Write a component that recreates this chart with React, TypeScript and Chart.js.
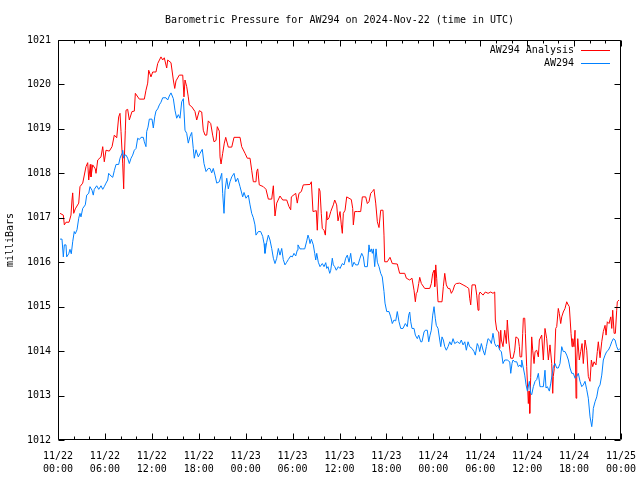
import React, { useEffect, useRef } from "react";
import { Chart, registerables } from "chart.js";

Chart.register(...registerables);

const chartTitle = "Barometric Pressure for AW294 on 2024-Nov-22 (time in UTC)";
const yAxisTitle = "milliBars";
const seriesNames = ["AW294 Analysis", "AW294"];
const seriesColors = ["#ff0000", "#0080ff"];
const xTickLabels = [
  ["11/22", "00:00"], ["11/22", "06:00"], ["11/22", "12:00"], ["11/22", "18:00"],
  ["11/23", "00:00"], ["11/23", "06:00"], ["11/23", "12:00"], ["11/23", "18:00"],
  ["11/24", "00:00"], ["11/24", "06:00"], ["11/24", "12:00"], ["11/24", "18:00"],
  ["11/25", "00:00"],
];
const xMinHours = 0;
const xMaxHours = 72;
const xMajorStep = 6;
const xMinorStep = 2;
const yMin = 1012;
const yMax = 1021;

// hours since 2024-11-22 00:00 UTC
const analysisHours = [
  0.26, 0.68, 0.81, 1.02, 1.41, 1.66, 1.79, 1.88, 2.01, 2.21, 2.65, 2.81, 3.16, 3.58, 3.80, 3.93, 4.13, 4.22, 4.44, 4.77,
  4.86, 5.08, 5.50, 5.72, 5.92, 6.14, 6.56, 6.91, 7.20, 7.51, 7.76, 7.93, 8.06, 8.27, 8.40, 8.48, 8.61, 8.70, 8.91, 9.12,
  9.46, 9.76, 9.89, 10.40, 11.04, 11.25, 11.47, 11.60, 11.89, 12.11, 12.53, 12.75, 13.17, 13.39, 13.59, 13.90, 14.03, 14.45,
  14.75, 14.93, 15.09, 15.51, 15.95, 16.11, 16.24, 16.46, 16.66, 16.79, 17.10, 17.52, 17.74, 18.07, 18.38, 18.58, 18.80, 19.02, 19.22, 19.53,
  19.78, 19.95, 20.21, 20.37, 20.63, 20.72, 20.85, 21.06, 21.27, 21.45, 21.78, 22.22, 22.51, 23.28, 23.49, 23.92, 24.21, 24.56, 24.77, 24.98,
  25.32, 25.41, 25.54, 25.74, 26.26, 26.60, 26.90, 27.33, 27.54, 27.75, 27.97, 28.39, 28.74, 29.25,
  29.54, 29.76, 29.84, 30.40, 30.60, 30.82, 31.12, 31.37, 32.23, 32.40, 32.61, 33.03, 33.16, 33.38, 33.51, 33.67, 33.80, 34.02, 34.19, 34.37,
  34.44, 34.66, 34.88, 35.21, 35.39, 35.64, 35.81, 36.07, 36.23, 36.36, 36.49, 36.71, 36.92, 37.22, 37.51, 37.69, 37.77, 37.95, 38.28, 38.71,
  38.92, 39.35, 39.56, 39.77, 39.99, 40.20, 40.41, 40.63, 40.84, 41.05, 41.27, 41.56, 41.69, 41.78, 42.11, 42.46, 42.75, 43.39,
  43.69, 44.34, 44.55, 44.98, 45.27, 45.53, 45.70, 45.82, 45.95, 46.13, 46.26, 46.47, 46.90, 47.54, 47.74, 47.92, 48.09, 48.18, 48.31, 48.43,
  48.60, 49.11, 49.28, 49.46, 49.66, 49.88, 50.10, 50.30, 50.52, 50.73, 50.94, 51.38, 51.80, 52.22, 52.53, 52.65, 52.78, 52.95, 53.37, 53.55,
  53.72, 53.84, 53.97, 54.36, 54.65, 55.00, 55.34, 55.63, 55.85, 55.93, 56.11, 56.36, 56.49, 56.62, 56.70, 56.91, 57.13, 57.34, 57.46, 57.64,
  57.90, 58.19, 58.41,
  58.56, 58.87, 59.00, 59.09, 59.30, 59.43, 59.51, 59.69, 59.77, 59.94, 60.15, 60.24, 60.33, 60.45, 60.58, 60.71, 60.88, 61.01, 61.22, 61.43,
  61.56, 61.86, 62.07, 62.28, 62.50, 62.71, 62.92, 63.14, 63.27, 63.34, 63.47, 63.65, 63.78, 63.98, 64.11, 64.29, 64.42, 64.62, 64.84, 65.06,
  65.19, 65.39, 65.61, 65.74, 65.83, 65.99, 66.12, 66.25, 66.34, 66.47, 66.67, 66.85, 67.02, 67.18, 67.40, 67.62, 67.82, 68.04, 68.21, 68.38,
  68.55, 68.80, 68.97, 69.10, 69.32, 69.54, 69.74, 69.96, 70.09, 70.25, 70.47, 70.69, 70.82, 70.94, 71.12, 71.28, 71.45, 71.53, 71.75,
];
const analysisValues = [
  1017.10, 1017.06, 1016.84, 1016.90, 1016.90, 1017.06, 1017.40, 1017.56, 1017.10, 1017.20, 1017.33, 1017.70, 1017.78, 1018.15, 1018.24, 1017.85, 1018.20, 1017.92, 1018.19, 1018.10,
  1018.00, 1018.30, 1018.37, 1018.60, 1018.26, 1018.52, 1018.50, 1018.60, 1018.86, 1018.80, 1019.27, 1019.35, 1018.94, 1018.23, 1017.65, 1018.30, 1018.97, 1019.42, 1019.44, 1019.20,
  1019.39, 1019.40, 1019.80, 1019.67, 1019.67, 1019.87, 1020.03, 1020.32, 1020.17, 1020.28, 1020.28, 1020.47, 1020.62, 1020.55, 1020.60, 1020.37, 1020.55, 1020.49,
  1020.10, 1019.91, 1020.08, 1020.21, 1020.21, 1019.72, 1020.10, 1019.95, 1019.72, 1019.54, 1019.50, 1019.39, 1019.20, 1019.41, 1019.38, 1018.97, 1018.86, 1018.86, 1019.18, 1019.12,
  1018.86, 1018.71, 1018.74, 1019.05, 1018.95, 1018.37, 1018.21, 1018.45, 1018.68, 1018.81, 1018.59, 1018.59, 1018.81, 1018.81, 1018.60, 1018.45, 1018.34, 1018.34, 1018.07, 1017.81,
  1017.81, 1018.04, 1018.10, 1017.74, 1017.70, 1017.64, 1017.42, 1017.42, 1017.72, 1017.04, 1017.33, 1017.49, 1017.40, 1017.40,
  1017.25, 1017.18, 1017.47, 1017.55, 1017.33, 1017.55, 1017.59, 1017.74, 1017.75, 1017.81, 1017.14, 1017.16, 1016.72, 1017.66, 1017.60, 1017.10, 1016.76, 1016.72, 1016.61, 1017.14,
  1016.95, 1017.00, 1017.14, 1017.29, 1017.40, 1017.29, 1016.93, 1017.14, 1016.84, 1016.65, 1017.10, 1017.17, 1017.47, 1017.44, 1017.41, 1017.21, 1016.84, 1017.14, 1017.14, 1017.14,
  1017.47, 1017.47, 1017.32, 1017.36, 1017.55, 1017.59, 1017.64, 1017.33, 1016.91, 1016.78, 1017.17, 1017.17, 1016.61, 1016.01, 1016.01, 1016.11, 1015.97, 1015.96,
  1015.75, 1015.75, 1015.64, 1015.60, 1015.64, 1015.37, 1015.11, 1015.30, 1015.33, 1015.52, 1015.66, 1015.52, 1015.41, 1015.41, 1015.52, 1015.75, 1015.82, 1015.45, 1015.94, 1015.64,
  1015.11, 1015.11, 1015.45, 1015.75, 1015.49, 1015.41, 1015.41, 1015.30, 1015.37, 1015.49, 1015.52, 1015.53, 1015.49, 1015.45, 1015.41, 1015.19, 1015.04, 1015.49, 1015.49, 1015.26,
  1014.92, 1015.26, 1015.33, 1015.26, 1015.33, 1015.30, 1015.33, 1015.30, 1015.33, 1014.70, 1014.47, 1014.43, 1014.06, 1014.47, 1014.25, 1014.10, 1014.47, 1014.17, 1014.70, 1014.25,
  1013.84, 1013.84, 1014.02,
  1014.32, 1014.28, 1014.10, 1013.87, 1013.87, 1014.40, 1014.74, 1014.74, 1014.40, 1013.65, 1012.82, 1013.10, 1012.60, 1013.40, 1014.32, 1014.02, 1013.72, 1013.99, 1014.02, 1013.87,
  1014.25, 1014.36, 1013.80, 1014.51, 1014.28, 1013.80, 1014.14, 1013.72, 1013.05, 1013.43, 1013.61, 1014.51, 1014.55, 1014.96, 1014.85, 1014.62, 1014.77, 1014.88, 1014.96, 1015.11,
  1015.06, 1015.00, 1014.40, 1014.10, 1014.28, 1014.10, 1014.47, 1012.94, 1013.80, 1014.28, 1013.80, 1013.99, 1014.17, 1013.72, 1014.25, 1014.02, 1013.43, 1013.32, 1013.80, 1013.65,
  1013.76, 1013.69, 1013.99, 1014.21, 1013.85, 1014.21, 1014.44, 1014.58, 1014.36, 1014.66, 1014.62, 1014.77, 1014.51, 1014.92, 1014.40, 1014.40, 1014.92, 1015.11, 1015.15,
];

const stationHours = [
  0.26, 0.51, 0.68, 0.81, 1.02, 1.11, 1.37, 1.53, 1.70, 1.88, 2.08, 2.21, 2.43, 2.65, 2.81, 2.94, 3.16, 3.49, 3.67, 3.93,
  4.09, 4.35, 4.51, 4.64, 4.95, 5.21, 5.50, 5.72, 5.92, 6.14, 6.36, 6.48, 6.78, 7.00, 7.20, 7.42, 7.76, 7.93, 8.19, 8.27,
  8.40, 8.48, 8.70, 8.91, 9.12, 9.34, 9.55, 9.76, 9.98, 10.19, 10.40, 10.62, 10.91, 11.04, 11.25, 11.34, 11.51, 11.68, 12.02, 12.19,
  12.37, 12.53, 12.75, 12.96, 13.17, 13.39, 13.81, 14.03, 14.23, 14.45,
  14.75, 14.96, 15.18, 15.39, 15.60, 15.82, 16.03, 16.24, 16.46, 16.66, 16.88, 17.10, 17.30, 17.43, 17.65, 17.94, 18.16, 18.45, 18.67, 18.93,
  19.22, 19.44, 19.66, 19.86, 20.08, 20.30, 20.63, 20.94, 21.06, 21.23, 21.36, 21.58, 21.78, 22.00, 22.22, 22.51, 22.73, 22.98, 23.28, 23.62,
  23.79, 24.04, 24.34, 24.56, 24.77, 24.98, 25.19, 25.32, 25.62, 25.92, 26.18, 26.35, 26.47, 26.69, 26.90, 27.11, 27.33, 27.54, 27.75, 27.97,
  28.18, 28.39, 28.61, 28.81, 29.03, 29.25, 29.45,
  29.76, 29.97, 30.18, 30.40, 30.60, 30.69, 30.95, 31.24, 31.55, 31.81, 31.97, 32.10, 32.23, 32.40, 32.65, 32.83, 32.96, 33.09, 33.29, 33.51,
  33.80, 34.02, 34.24, 34.37, 34.53, 34.75, 34.88, 35.08, 35.21, 35.39, 35.59, 35.85, 36.07, 36.36, 36.58, 36.79, 37.00, 37.22, 37.43, 37.64,
  37.86, 38.07, 38.37, 38.62, 38.84, 39.05, 39.22, 39.56, 39.77, 39.90, 40.07, 40.20, 40.33, 40.50, 40.67, 40.84, 41.05, 41.27, 41.47, 41.69,
  41.82, 42.04, 42.33, 42.55, 42.75, 42.97, 43.19, 43.39, 43.61, 43.83,
  44.12, 44.42, 44.67, 44.85, 44.98, 45.11, 45.27, 45.53, 45.70, 45.95, 46.13, 46.39, 46.55, 46.81, 46.97, 47.23, 47.41, 47.58, 47.74, 47.92,
  48.09, 48.25, 48.38, 48.60, 48.82, 48.95, 49.11, 49.28, 49.46, 49.66, 49.88, 50.10, 50.30, 50.52, 50.73, 51.07, 51.38, 51.58, 51.80, 52.02,
  52.22, 52.44, 52.65, 52.95, 53.20, 53.37, 53.62, 53.80, 53.93, 54.14, 54.36, 54.57, 54.78, 54.99, 55.21, 55.42, 55.63, 55.85, 56.06, 56.27,
  56.49, 56.70, 56.91, 57.13, 57.46, 57.77, 57.90, 58.06, 58.19, 58.41,
  58.66, 58.87, 59.09, 59.22, 59.30, 59.51, 59.69, 59.86, 60.03, 60.28, 60.45, 60.58, 60.79, 61.01, 61.22, 61.43, 61.64, 61.86, 62.07, 62.28,
  62.41, 62.58, 62.84, 63.02, 63.18, 63.35, 63.56, 63.78, 63.98, 64.20, 64.42, 64.62, 64.84, 65.06, 65.27, 65.48, 65.70, 65.91, 66.12, 66.34,
  66.54, 66.76, 66.98, 67.18, 67.40, 67.62, 67.82, 68.04, 68.26, 68.38, 68.46, 68.68, 68.90, 69.10, 69.32, 69.54, 69.74, 69.96, 70.17, 70.38,
  70.60, 70.82, 71.02, 71.24, 71.45, 71.66, 71.87,
];
const stationValues = [
  1016.52, 1016.52, 1016.12, 1016.39, 1016.39, 1016.12, 1016.19, 1016.29, 1016.19, 1016.46, 1016.69, 1016.64, 1016.73, 1016.99, 1017.10, 1017.02, 1017.21, 1017.29, 1017.51, 1017.55,
  1017.70, 1017.62, 1017.51, 1017.64, 1017.72, 1017.64, 1017.72, 1017.64, 1017.70, 1017.78, 1017.85, 1018.00, 1017.94, 1017.91, 1018.06, 1018.20, 1018.20, 1018.34, 1018.45, 1018.52,
  1018.34, 1018.41, 1018.41, 1018.34, 1018.22, 1018.34, 1018.41, 1018.52, 1018.56, 1018.79, 1018.76, 1018.81, 1018.81, 1018.71, 1018.60, 1018.94, 1019.04, 1019.22, 1019.22, 1019.02,
  1019.27, 1019.40, 1019.45, 1019.54, 1019.60, 1019.70, 1019.70, 1019.65, 1019.74, 1019.81,
  1019.68, 1019.42, 1019.24, 1019.32, 1019.24, 1019.61, 1019.68, 1018.97, 1018.90, 1018.68, 1018.83, 1018.92, 1018.56, 1018.34, 1018.53, 1018.37, 1018.45, 1018.54, 1018.22, 1018.04,
  1018.11, 1018.11, 1018.01, 1018.11, 1017.96, 1017.78, 1017.81, 1018.00, 1017.55, 1017.10, 1017.62, 1017.89, 1017.65, 1017.81, 1017.92, 1018.00, 1017.81, 1017.89, 1017.70, 1017.47,
  1017.57, 1017.44, 1017.51, 1017.29, 1017.10, 1017.00, 1016.84, 1016.61, 1016.69, 1016.69, 1016.58, 1016.42, 1016.20, 1016.45, 1016.61, 1016.50, 1016.31, 1016.09, 1015.97, 1016.09,
  1016.31, 1016.16, 1016.31, 1016.06, 1015.94, 1016.00, 1016.06,
  1016.14, 1016.12, 1016.20, 1016.14, 1016.27, 1016.39, 1016.30, 1016.30, 1016.30, 1016.48, 1016.61, 1016.54, 1016.42, 1016.52, 1016.39, 1016.20, 1016.05, 1016.20, 1016.00, 1015.90,
  1015.97, 1015.90, 1015.99, 1015.86, 1015.90, 1015.75, 1015.82, 1016.09, 1015.94, 1015.90, 1015.82, 1015.90, 1015.86, 1015.97, 1015.94, 1016.09, 1016.16, 1016.00, 1016.20, 1015.90,
  1016.00, 1015.94, 1015.94, 1016.09, 1016.20, 1016.12, 1015.90, 1015.90, 1016.39, 1016.23, 1016.30, 1016.20, 1016.30, 1015.90, 1016.30, 1016.00, 1015.90, 1015.75, 1015.67, 1015.34,
  1015.08, 1014.89, 1014.89, 1014.77, 1014.62, 1014.70, 1014.68, 1014.89, 1014.66, 1014.51,
  1014.51, 1014.62, 1014.55, 1014.81, 1014.88, 1014.66, 1014.51, 1014.51, 1014.36, 1014.28, 1014.36, 1014.21, 1014.21, 1014.43, 1014.47, 1014.47, 1014.21, 1014.36, 1014.47, 1014.81,
  1015.00, 1014.74, 1014.58, 1014.51, 1014.25, 1014.10, 1014.32, 1014.25, 1014.10, 1014.02, 1014.10, 1014.21, 1014.14, 1014.28, 1014.17, 1014.21, 1014.17, 1014.25, 1014.14, 1014.21,
  1014.02, 1014.21, 1014.10, 1014.06, 1013.99, 1013.91, 1014.17, 1014.10, 1013.99, 1014.17, 1014.02, 1013.91, 1014.10, 1014.28, 1014.25, 1014.17, 1014.40, 1014.17, 1014.10, 1014.14,
  1014.02, 1013.99, 1013.72, 1013.80, 1013.80, 1013.76, 1013.50, 1013.72, 1013.80, 1013.76,
  1013.76, 1013.65, 1013.69, 1013.64, 1013.80, 1013.62, 1013.46, 1013.24, 1013.10, 1013.32, 1013.05, 1013.02, 1013.20, 1013.32, 1013.36, 1013.50, 1013.20, 1013.20, 1013.20, 1013.57,
  1013.17, 1013.20, 1013.10, 1013.28, 1013.46, 1013.65, 1013.72, 1013.62, 1013.62, 1013.72, 1014.10, 1013.99, 1013.99, 1013.91, 1013.80, 1013.62, 1013.50, 1013.50, 1013.39, 1013.43,
  1013.50, 1013.32, 1013.20, 1013.24, 1013.32, 1013.13, 1012.94, 1012.52, 1012.30, 1012.49, 1012.71, 1012.86, 1012.97, 1013.17, 1013.24, 1013.46, 1013.80, 1013.91, 1013.99, 1014.02,
  1014.10, 1014.21, 1014.28, 1014.25, 1014.10, 1014.02, 1014.06,
];

const FONT_FAMILY = "'DejaVu Sans Mono', 'Liberation Mono', monospace";

function toPoints(hours: number[], values: number[]) {
  const n = Math.min(hours.length, values.length);
  const pts: { x: number; y: number }[] = [];
  for (let i = 0; i < n; i++) pts.push({ x: hours[i], y: values[i] });
  return pts;
}

const gnuFrame = {
  id: "gnuFrame",
  afterDatasetsDraw(chart: any) {
    const { ctx, chartArea: a, scales } = chart;
    const xs = scales.x;
    const ys = scales.y;
    const L = Math.round(a.left) + 0.5;
    const R = Math.round(a.right) - 0.5;
    const T = Math.round(a.top) + 0.5;
    const B = Math.round(a.bottom) - 0.5;
    ctx.save();
    ctx.strokeStyle = "#000";
    ctx.lineWidth = 1;
    ctx.beginPath();
    ctx.rect(L, T, R - L, B - T);
    const majorLen = 6;
    const minorLen = 3;
    for (let v = xMinHours; v <= xMaxHours + 1e-9; v += xMinorStep) {
      const px = Math.round(xs.getPixelForValue(v)) + 0.5;
      const len = Math.abs(v % xMajorStep) < 1e-9 ? majorLen : minorLen;
      ctx.moveTo(px, B);
      ctx.lineTo(px, B - len);
      ctx.moveTo(px, T);
      ctx.lineTo(px, T + len);
    }
    ys.ticks.forEach((t: any) => {
      const py = Math.round(ys.getPixelForValue(t.value)) + 0.5;
      ctx.moveTo(L, py);
      ctx.lineTo(L + majorLen, py);
      ctx.moveTo(R, py);
      ctx.lineTo(R - majorLen, py);
    });
    ctx.stroke();

    ctx.font = `10px ${FONT_FAMILY}`;
    ctx.textBaseline = "middle";
    ctx.fillStyle = "#000";

    // title, centred over the plot area
    ctx.textAlign = "center";
    ctx.fillText(chartTitle, (a.left + a.right) / 2, 20);

    // key (legend) inside the plot, top right
    ctx.textAlign = "right";
    chart.data.datasets.forEach((ds: any, i: number) => {
      const y = Math.round(a.top) + 10 + i * 13;
      ctx.fillStyle = "#000";
      ctx.fillText(ds.label, Math.round(a.right) - 47, y);
      ctx.strokeStyle = ds.borderColor;
      ctx.beginPath();
      ctx.moveTo(Math.round(a.right) - 40, y + 0.5);
      ctx.lineTo(Math.round(a.right) - 11, y + 0.5);
      ctx.stroke();
    });
    ctx.restore();
  },
};

export default function App() {
  const canvasRef = useRef<HTMLCanvasElement | null>(null);

  useEffect(() => {
    if (!canvasRef.current) return;
    const font = { family: FONT_FAMILY, size: 10, weight: "normal" as const };
    const chart = new Chart(canvasRef.current, {
      type: "line",
      data: {
        datasets: [
          {
            label: seriesNames[0],
            data: toPoints(analysisHours, analysisValues),
            borderColor: seriesColors[0],
            backgroundColor: seriesColors[0],
            borderWidth: 1,
            pointRadius: 0,
            tension: 0,
            fill: false,
            order: 1,
          },
          {
            label: seriesNames[1],
            data: toPoints(stationHours, stationValues),
            borderColor: seriesColors[1],
            backgroundColor: seriesColors[1],
            borderWidth: 1,
            pointRadius: 0,
            tension: 0,
            fill: false,
            order: 0,
          },
        ],
      },
      options: {
        animation: false,
        responsive: false,
        maintainAspectRatio: false,
        events: [],
        layout: { padding: { top: 40, right: 19, bottom: 0, left: 0 } },
        plugins: {
          legend: { display: false },
          tooltip: { enabled: false },
          title: { display: false },
        },
        scales: {
          x: {
            type: "linear",
            min: xMinHours,
            max: xMaxHours,
            grid: { display: false, drawTicks: false },
            border: { display: false },
            ticks: {
              stepSize: xMajorStep,
              autoSkip: false,
              maxRotation: 0,
              minRotation: 0,
              color: "#000",
              font: { ...font, lineHeight: 1.3 },
              padding: 10,
              callback: (v: any) => xTickLabels[Math.round(Number(v) / xMajorStep)] as any,
            },
            afterFit: (s: any) => {
              s.height = 40;
              s.paddingLeft = 0;
              s.paddingRight = 0;
            },
          },
          y: {
            type: "linear",
            min: yMin,
            max: yMax,
            grid: { display: false, drawTicks: false },
            border: { display: false },
            ticks: {
              stepSize: 1,
              color: "#000",
              font,
              padding: 7,
              callback: (v: any) => String(v),
            },
            title: {
              display: true,
              text: yAxisTitle,
              color: "#000",
              font: { ...font, lineHeight: 1.2 },
              padding: { top: 4, bottom: 0 },
            },
            afterFit: (s: any) => {
              s.width = 58;
              s.paddingTop = 0;
              s.paddingBottom = 0;
            },
          },
        },
      },
      plugins: [gnuFrame],
    });
    return () => chart.destroy();
  }, []);

  return (
    <div style={{ position: "absolute", left: 0, top: 0, width: 640, height: 480, background: "#fff" }}>
      <canvas ref={canvasRef} width={640} height={480} style={{ display: "block" }} />
    </div>
  );
}
